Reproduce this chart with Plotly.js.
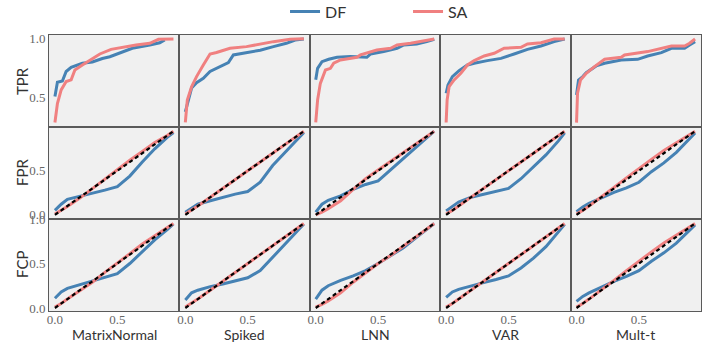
<!DOCTYPE html>
<html>
<head>
<meta charset="utf-8">
<script src="https://cdn.plot.ly/plotly-3.0.1.min.js"></script>
<style>
  body { margin: 0; background: #fff; }
  #myplot { width: 708px; height: 354px; }
</style>
</head>
<body>
<div id="myplot"></div>
<script>
const modeles = ['MatrixNormal', 'Spiked', 'LNN', 'VAR', 'Mult-t'];
const lignes = ['TPR', 'FPR', 'FCP'];

// TPR : courbes en escalier (x, y) par modèle
const tpr_df_x = [
  [0, 0.02, 0.06, 0.09, 0.13, 0.22, 0.30, 0.38, 0.44, 0.54, 0.62, 0.76, 0.84, 0.88],
  [0, 0.024, 0.05, 0.09, 0.144, 0.198, 0.278, 0.345, 0.385, 0.49, 0.6, 0.706, 0.81, 0.88, 0.95],
  [0, 0.015, 0.05, 0.104, 0.171, 0.278, 0.41, 0.44, 0.545, 0.652, 0.706, 0.81, 0.89, 0.95],
  [0, 0.015, 0.05, 0.104, 0.171, 0.225, 0.33, 0.44, 0.545, 0.652, 0.76, 0.866, 0.95],
  [0, 0.016, 0.05, 0.078, 0.158, 0.225, 0.358, 0.49, 0.57, 0.68, 0.76, 0.866, 0.906, 0.95]
];
const tpr_df_y = [
  [0.51, 0.63, 0.64, 0.72, 0.755, 0.79, 0.80, 0.83, 0.845, 0.888, 0.916, 0.944, 0.963, 0.986],
  [0.38, 0.466, 0.58, 0.626, 0.663, 0.72, 0.76, 0.795, 0.86, 0.88, 0.90, 0.93, 0.958, 0.986, 0.994],
  [0.65, 0.747, 0.803, 0.823, 0.84, 0.846, 0.84, 0.868, 0.888, 0.916, 0.944, 0.952, 0.972, 0.992],
  [0.537, 0.607, 0.677, 0.727, 0.775, 0.79, 0.812, 0.831, 0.868, 0.907, 0.935, 0.972, 0.994],
  [0.522, 0.649, 0.677, 0.71, 0.767, 0.79, 0.817, 0.823, 0.851, 0.879, 0.916, 0.916, 0.944, 0.972]
];
const tpr_sa_x = [
  [0, 0.02, 0.05, 0.09, 0.13, 0.16, 0.22, 0.30, 0.36, 0.45, 0.54, 0.65, 0.76, 0.83, 0.95],
  [0, 0.016, 0.05, 0.09, 0.144, 0.198, 0.25, 0.358, 0.49, 0.6, 0.706, 0.84, 0.95],
  [0, 0.015, 0.037, 0.078, 0.118, 0.144, 0.198, 0.33, 0.358, 0.49, 0.6, 0.652, 0.76, 0.84, 0.95],
  [0, 0.008, 0.024, 0.064, 0.118, 0.171, 0.225, 0.305, 0.385, 0.465, 0.6, 0.652, 0.76, 0.866, 0.95],
  [0, 0.008, 0.032, 0.078, 0.144, 0.225, 0.358, 0.385, 0.57, 0.68, 0.76, 0.866, 0.906, 0.95]
];
const tpr_sa_y = [
  [0.29, 0.45, 0.565, 0.635, 0.65, 0.733, 0.775, 0.83, 0.868, 0.907, 0.924, 0.944, 0.958, 0.992, 0.994],
  [0.29, 0.48, 0.59, 0.677, 0.775, 0.868, 0.88, 0.916, 0.93, 0.952, 0.972, 0.992, 0.997],
  [0.29, 0.48, 0.62, 0.733, 0.747, 0.79, 0.817, 0.84, 0.86, 0.902, 0.916, 0.944, 0.958, 0.972, 0.994],
  [0.29, 0.48, 0.593, 0.649, 0.705, 0.775, 0.812, 0.851, 0.874, 0.916, 0.924, 0.952, 0.963, 0.994, 0.994],
  [0.289, 0.537, 0.649, 0.705, 0.761, 0.823, 0.84, 0.86, 0.888, 0.916, 0.935, 0.935, 0.958, 0.994]
];

// FPR et FCP : niveaux nominaux communs
const alpha = [0, 0.05, 0.1, 0.2, 0.3, 0.4, 0.5, 0.6, 0.7, 0.8, 0.9, 0.95];
const fpr_df = [
  [0.05, 0.12, 0.175, 0.21, 0.24, 0.28, 0.32, 0.44, 0.6, 0.75, 0.88, 0.935],
  [0.03, 0.08, 0.12, 0.16, 0.2, 0.235, 0.265, 0.37, 0.56, 0.71, 0.86, 0.935],
  [0.03, 0.12, 0.165, 0.215, 0.29, 0.345, 0.385, 0.51, 0.64, 0.76, 0.88, 0.95],
  [0.045, 0.1, 0.145, 0.2, 0.235, 0.27, 0.3, 0.41, 0.54, 0.68, 0.84, 0.93],
  [0.035, 0.09, 0.13, 0.195, 0.255, 0.305, 0.37, 0.49, 0.59, 0.71, 0.85, 0.93]
];
const fpr_sa = [
  [0.01, 0.05, 0.095, 0.19, 0.3, 0.41, 0.52, 0.62, 0.72, 0.82, 0.9, 0.95],
  [0.01, 0.055, 0.1, 0.2, 0.3, 0.4, 0.5, 0.6, 0.7, 0.8, 0.9, 0.95],
  [0.0, 0.03, 0.07, 0.16, 0.29, 0.41, 0.51, 0.61, 0.71, 0.8, 0.9, 0.95],
  [0.01, 0.05, 0.1, 0.2, 0.3, 0.4, 0.5, 0.6, 0.7, 0.8, 0.9, 0.95],
  [0.01, 0.05, 0.1, 0.2, 0.31, 0.42, 0.53, 0.63, 0.73, 0.82, 0.91, 0.95]
];
const fcp_df = [
  [0.11, 0.18, 0.22, 0.26, 0.3, 0.345, 0.385, 0.5, 0.63, 0.765, 0.88, 0.945],
  [0.09, 0.17, 0.2, 0.24, 0.27, 0.305, 0.34, 0.42, 0.57, 0.72, 0.86, 0.945],
  [0.1, 0.2, 0.25, 0.31, 0.36, 0.42, 0.5, 0.585, 0.675, 0.785, 0.89, 0.95],
  [0.12, 0.18, 0.21, 0.25, 0.285, 0.32, 0.36, 0.45, 0.56, 0.69, 0.85, 0.94],
  [0.075, 0.13, 0.17, 0.235, 0.3, 0.355, 0.42, 0.525, 0.62, 0.73, 0.86, 0.935]
];
const fcp_sa = [
  [0.01, 0.05, 0.1, 0.19, 0.29, 0.4, 0.5, 0.61, 0.72, 0.81, 0.9, 0.95],
  [0.01, 0.055, 0.1, 0.2, 0.3, 0.41, 0.51, 0.6, 0.7, 0.8, 0.9, 0.95],
  [0.01, 0.04, 0.08, 0.17, 0.29, 0.4, 0.5, 0.59, 0.69, 0.79, 0.89, 0.95],
  [0.01, 0.05, 0.1, 0.2, 0.3, 0.4, 0.5, 0.6, 0.7, 0.8, 0.9, 0.95],
  [0.01, 0.05, 0.1, 0.2, 0.31, 0.42, 0.53, 0.63, 0.73, 0.82, 0.91, 0.95]
];
const diagonale = [0, 0.95];

const bleu = '#4682b4';
const rouge = '#f08080';

function courbe(x, y, couleur, nom, idx, legende) {
  return {
    x: x, y: y,
    type: 'scatter', mode: 'lines',
    name: nom, legendgroup: nom, showlegend: legende,
    line: { color: couleur, width: 3 },
    xaxis: 'x' + idx, yaxis: 'y' + idx,
    hoverinfo: 'skip'
  };
}

function dessiner() {
  let data = [];
  let forme = {
    width: 708, height: 354,
    margin: { l: 49, r: 7, t: 35, b: 43, autoexpand: false },
    paper_bgcolor: '#ffffff',
    plot_bgcolor: '#f0f0f0',
    font: { family: 'Lato, "DejaVu Sans", sans-serif', color: '#333' },
    legend: {
      orientation: 'h', x: 0.362, xanchor: 'left', y: 1.085, yanchor: 'middle',
      font: { size: 16, color: '#333' }, entrywidth: 78, entrywidthmode: 'pixels'
    },
    annotations: []
  };

  let plages_y = [[0.252, 1.028], [-0.0475, 0.9975], [-0.034, 1.0005]];
  let ticks_y = [[0.5, 1.0], [0.0, 0.5], [0.0, 0.5, 1.0]];
  let police_ticks = { family: '"Liberation Serif", "DejaVu Serif", serif', size: 13, color: '#666' };

  for (let r = 0; r < 3; r++) {
    for (let c = 0; c < 5; c++) {
      let idx = r * 5 + c + 1;
      let suffixe = idx === 1 ? '' : idx;
      let premier = (idx === 1);
      if (r === 0) {
        data.push(courbe(tpr_df_x[c], tpr_df_y[c], bleu, 'DF', idx, premier));
        data.push(courbe(tpr_sa_x[c], tpr_sa_y[c], rouge, 'SA', idx, premier));
      } else {
        let df = r === 1 ? fpr_df : fcp_df;
        let sa = r === 1 ? fpr_sa : fcp_sa;
        data.push(courbe(alpha, df[c], bleu, 'DF', idx, false));
        data.push(courbe(alpha, sa[c], rouge, 'SA', idx, false));
        data.push({
          x: diagonale, y: diagonale, type: 'scatter', mode: 'lines',
          showlegend: false, hoverinfo: 'skip',
          line: { color: '#000', width: 2.2, dash: '4px,3px' },
          xaxis: 'x' + idx, yaxis: 'y' + idx
        });
      }

      forme['xaxis' + suffixe] = {
        domain: [c / 5, (c + 1) / 5],
        anchor: 'y' + idx,
        range: [-0.0475, 0.9975],
        showgrid: false, zeroline: false,
        showline: true, mirror: true, linecolor: '#5a5a5a', linewidth: 1,
        tickvals: [0, 0.5, 1.0], tickformat: '.1f', ticks: '',
        ticklabelstandoff: -4,
        showticklabels: r === 2,
        tickfont: police_ticks
      };
      forme['yaxis' + suffixe] = {
        domain: [(2 - r) / 3, (3 - r) / 3],
        anchor: 'x' + idx,
        range: plages_y[r],
        showgrid: false, zeroline: false,
        showline: true, mirror: true, linecolor: '#5a5a5a', linewidth: 1,
        tickvals: ticks_y[r], tickformat: '.1f', ticks: '',
        showticklabels: c === 0,
        tickfont: police_ticks
      };
    }
  }

  lignes.forEach((nom, r) => {
    forme.annotations.push({
      text: nom, xref: 'paper', yref: 'paper',
      x: -0.0414, y: (2.5 - r) / 3, textangle: -90,
      xanchor: 'center', yanchor: 'middle',
      showarrow: false, font: { size: 15, color: '#333' }
    });
  });
  modeles.forEach((nom, c) => {
    forme.annotations.push({
      text: nom, xref: 'paper', yref: 'paper',
      x: (c + 0.5) / 5, y: -0.085,
      xanchor: 'center', yanchor: 'middle',
      showarrow: false, font: { size: 14, color: '#333' }
    });
  });

  Plotly.newPlot('myplot', data, forme, { displayModeBar: false, staticPlot: true });
}

dessiner();
</script>
</body>
</html>
